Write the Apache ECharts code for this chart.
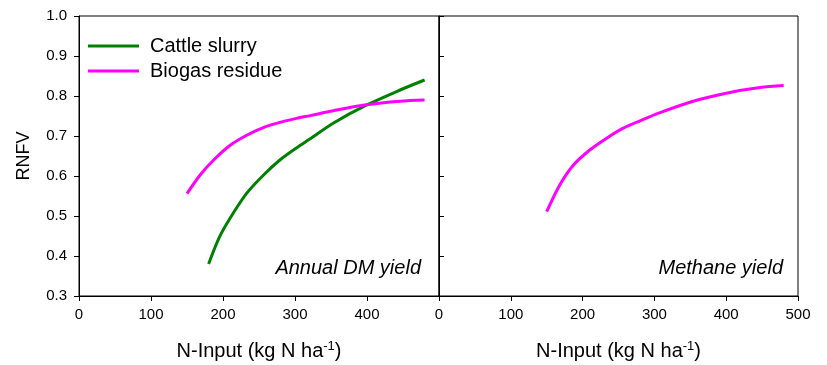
<!DOCTYPE html>
<html>
<head>
<meta charset="utf-8">
<script src="https://cdn.jsdelivr.net/npm/echarts@6/dist/echarts.min.js"></script>
<style>
html,body{margin:0;padding:0;background:#fff;}
#c{width:827px;height:365px;}
</style>
</head>
<body>
<div id="c"></div>
<script>
// Data
var seriesNames = ['Cattle slurry', 'Biogas residue'];
var panelLabels = ['Annual DM yield', 'Methane yield'];
var xTicks = [0, 100, 200, 300, 400, 500];
var yTicks = [0.3, 0.4, 0.5, 0.6, 0.7, 0.8, 0.9, 1.0];

// Left panel (Annual DM yield)
var cattleDM = [[180,0.380],[195,0.447],[210,0.495],[233,0.557],[256,0.602],[279,0.640],[302,0.670],[321,0.693],[353,0.732],[399,0.777],[446,0.815],[480,0.840]];
var biogasDM = [[150,0.556],[168,0.602],[187,0.640],[210,0.677],[233,0.702],[256,0.721],[279,0.734],[302,0.744],[321,0.751],[353,0.763],[399,0.778],[446,0.787],[480,0.790]];
// Right panel (Methane yield)
var biogasCH4 = [[150,0.511],[168,0.577],[187,0.627],[210,0.665],[233,0.694],[256,0.719],[280,0.738],[307,0.758],[354,0.787],[400,0.807],[447,0.821],[480,0.826]];

var FONT = '"Liberation Sans", Arial, sans-serif';
var chart = echarts.init(document.getElementById('c'));

function xAxis(idx, showMax) {
  return {
    type: 'value', gridIndex: idx, min: xTicks[0], max: xTicks[xTicks.length-1], interval: 100,
    axisLine: {show: true, onZero: false, lineStyle: {color: '#000', width: 1}},
    axisTick: {show: true, inside: false, length: 5, lineStyle: {color: '#000'}},
    axisLabel: {show: true, fontSize: 15, color: '#000', fontFamily: FONT, margin: 11, showMaxLabel: showMax, showMinLabel: true},
    splitLine: {show: false},
    name: 'N-Input (kg N ha{sup|-1})', nameLocation: 'middle', nameGap: 44,
    nameTextStyle: {fontSize: 20, color: '#000', fontFamily: FONT,
      rich: {sup: {fontSize: 13, color: '#000', fontFamily: FONT, padding: [0,0,10,0]}}}
  };
}
function yAxis(idx, labels) {
  return {
    type: 'value', gridIndex: idx, min: 0.3, max: 1.0, interval: 0.1,
    axisLine: {show: true, onZero: false, lineStyle: {color: '#000', width: 1}},
    axisTick: {show: true, inside: !labels, length: 5, lineStyle: {color: '#000'}},
    axisLabel: {show: labels, fontSize: 15, color: '#000', fontFamily: FONT, margin: 12,
      formatter: function(v){ return v.toFixed(1); }},
    splitLine: {show: false},
    name: labels ? 'RNFV' : '', nameLocation: 'middle', nameGap: 46, nameRotate: 90,
    nameTextStyle: {fontSize: 18, color: '#000', fontFamily: FONT}
  };
}

chart.setOption({
  animation: false,
  backgroundColor: '#fff',
  grid: [
    {left: 79, right: 388, top: 16, bottom: 69, show: true, borderColor: '#000', borderWidth: 1, containLabel: false, outerBoundsMode: 'none'},
    {left: 439, right: 29, top: 16, bottom: 69, show: true, borderColor: '#000', borderWidth: 1, containLabel: false, outerBoundsMode: 'none'}
  ],
  xAxis: [xAxis(0, false), xAxis(1, true)],
  yAxis: [yAxis(0, true), yAxis(1, false)],
  legend: {
    orient: 'vertical', left: 83, top: 31, itemWidth: 51, itemHeight: 14, itemGap: 5,
    data: [
      {name: seriesNames[0], icon: 'path://M0,0 L51,0 L51,3 L0,3 Z'},
      {name: seriesNames[1], icon: 'path://M0,0 L51,0 L51,3 L0,3 Z'}
    ],
    textStyle: {fontSize: 20, color: '#000', fontFamily: FONT, padding: [0,0,0,6]}
  },
  graphic: [
    {type: 'text', right: 827-421, top: 258, style: {text: panelLabels[0], font: 'italic 20px ' + FONT, fill: '#000'}},
    {type: 'text', right: 827-783, top: 258, style: {text: panelLabels[1], font: 'italic 20px ' + FONT, fill: '#000'}}
  ],
  series: [
    {name: seriesNames[0], type: 'line', xAxisIndex: 0, yAxisIndex: 0, data: cattleDM, smooth: 0.3, symbol: 'none',
      lineStyle: {color: '#008000', width: 3}, itemStyle: {color: '#008000'}},
    {name: seriesNames[1], type: 'line', xAxisIndex: 0, yAxisIndex: 0, data: biogasDM, smooth: 0.3, symbol: 'none',
      lineStyle: {color: '#ff00ff', width: 3}, itemStyle: {color: '#ff00ff'}},
    {name: seriesNames[1], type: 'line', xAxisIndex: 1, yAxisIndex: 1, data: biogasCH4, smooth: 0.3, symbol: 'none',
      lineStyle: {color: '#ff00ff', width: 3}, itemStyle: {color: '#ff00ff'}}
  ]
});
</script>
</body>
</html>
